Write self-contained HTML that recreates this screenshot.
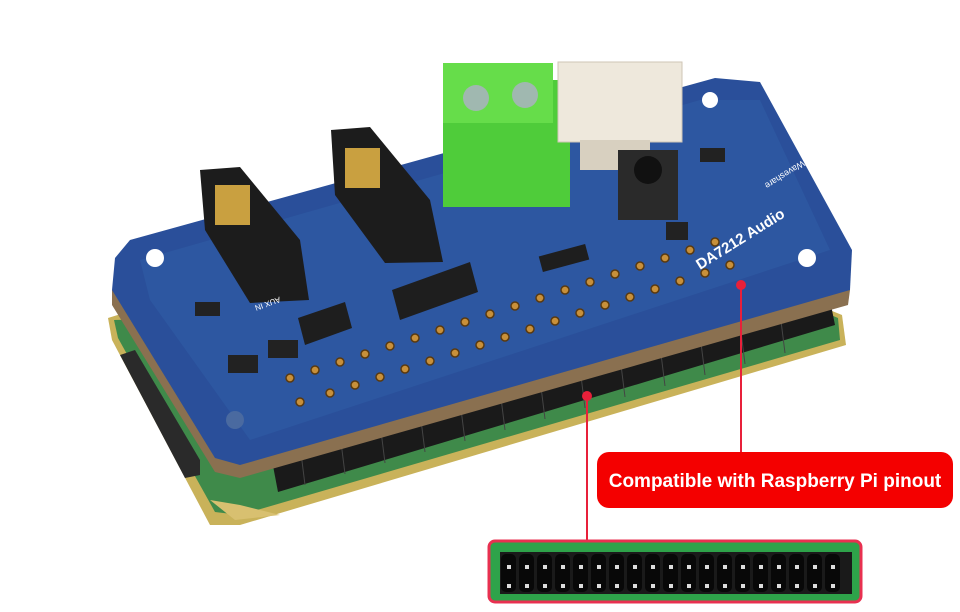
<!DOCTYPE html>
<html><head><meta charset="utf-8"><style>
html,body{margin:0;padding:0;background:#fff;}
svg{display:block;}
</style></head><body>
<svg width="960" height="612" viewBox="0 0 960 612" xmlns="http://www.w3.org/2000/svg">
<rect width="960" height="612" fill="#fff"/>
<polygon points="108,318 140,308 800,298 842,315 846,345 240,525 210,525 112,340" fill="#c9b25a"/>
<polygon points="114,320 800,302 838,318 840,340 240,515 215,512 118,338" fill="#3f8a4a"/>
<polygon points="210,500 235,520 280,515 240,505" fill="#d8c070"/>
<polygon points="270,450 830,300 835,325 278,492" fill="#1a1a1a"/>
<g stroke="#444" stroke-width="1">
<line x1="300" y1="445" x2="305" y2="485"/><line x1="340" y1="434" x2="345" y2="474"/><line x1="380" y1="423" x2="385" y2="463"/><line x1="420" y1="412" x2="425" y2="452"/><line x1="460" y1="401" x2="465" y2="441"/><line x1="500" y1="390" x2="505" y2="430"/><line x1="540" y1="379" x2="545" y2="419"/><line x1="580" y1="368" x2="585" y2="408"/><line x1="620" y1="357" x2="625" y2="397"/><line x1="660" y1="346" x2="665" y2="386"/><line x1="700" y1="335" x2="705" y2="375"/><line x1="740" y1="324" x2="745" y2="364"/><line x1="780" y1="313" x2="785" y2="353"/>
</g>
<polygon points="120,355 135,350 200,460 200,475 185,478" fill="#2a2a2a"/>
<polygon points="112,290 850,290 848,305 240,478 215,472 112,305" fill="#8a7050"/>
<polygon points="115,258 130,240 715,78 760,82 852,250 850,290 240,465 215,458 112,290" fill="#2a4f9a"/>
<polygon points="140,260 700,100 760,100 830,250 250,440 150,300" fill="#3060a8" opacity="0.5"/>
<circle cx="155" cy="258" r="9" fill="#fff"/><circle cx="710" cy="100" r="8" fill="#fff"/>
<circle cx="807" cy="258" r="9" fill="#fff"/><circle cx="235" cy="420" r="9" fill="#4a6aa0"/>
<g fill="#c8903a" stroke="#5a3a10" stroke-width="1.5">
<circle cx="300" cy="402" r="4"/><circle cx="330" cy="393" r="4"/><circle cx="355" cy="385" r="4"/><circle cx="380" cy="377" r="4"/><circle cx="405" cy="369" r="4"/><circle cx="430" cy="361" r="4"/><circle cx="455" cy="353" r="4"/><circle cx="480" cy="345" r="4"/><circle cx="505" cy="337" r="4"/><circle cx="530" cy="329" r="4"/><circle cx="555" cy="321" r="4"/><circle cx="580" cy="313" r="4"/><circle cx="605" cy="305" r="4"/><circle cx="630" cy="297" r="4"/><circle cx="655" cy="289" r="4"/><circle cx="680" cy="281" r="4"/><circle cx="705" cy="273" r="4"/><circle cx="730" cy="265" r="4"/>
<circle cx="290" cy="378" r="4"/><circle cx="315" cy="370" r="4"/><circle cx="340" cy="362" r="4"/><circle cx="365" cy="354" r="4"/><circle cx="390" cy="346" r="4"/><circle cx="415" cy="338" r="4"/><circle cx="440" cy="330" r="4"/><circle cx="465" cy="322" r="4"/><circle cx="490" cy="314" r="4"/><circle cx="515" cy="306" r="4"/><circle cx="540" cy="298" r="4"/><circle cx="565" cy="290" r="4"/><circle cx="590" cy="282" r="4"/><circle cx="615" cy="274" r="4"/><circle cx="640" cy="266" r="4"/><circle cx="665" cy="258" r="4"/><circle cx="690" cy="250" r="4"/><circle cx="715" cy="242" r="4"/>
</g>
<polygon points="392,290 470,262 478,292 400,320" fill="#1e1e1e"/>
<polygon points="298,318 345,302 352,328 305,345" fill="#1e1e1e"/>
<rect x="540" y="250" width="48" height="16" fill="#1e1e1e" transform="rotate(-15 564 258)"/>
<rect x="228" y="355" width="30" height="18" fill="#222"/><rect x="268" y="340" width="30" height="18" fill="#222"/>
<rect x="195" y="302" width="25" height="14" fill="#222"/><rect x="700" y="148" width="25" height="14" fill="#222"/>
<rect x="666" y="222" width="22" height="18" fill="#222"/>
<polygon points="200,170 240,167 300,240 309,300 250,303 205,230" fill="#1c1c1c"/>
<rect x="215" y="185" width="35" height="40" fill="#c9a040"/>
<polygon points="331,130 370,127 430,200 443,262 385,263 335,195" fill="#1c1c1c"/>
<rect x="345" y="148" width="35" height="40" fill="#c9a040"/>
<rect x="443" y="80" width="127" height="127" fill="#4fcc3a"/>
<rect x="443" y="63" width="110" height="60" fill="#66dd4a"/>
<circle cx="476" cy="98" r="13" fill="#a0b8b0"/><circle cx="525" cy="95" r="13" fill="#a0b8b0"/>
<rect x="558" y="62" width="124" height="80" fill="#eee8dc" stroke="#cfc6b6"/>
<rect x="580" y="140" width="70" height="30" fill="#d8d0c0"/>
<rect x="618" y="150" width="60" height="70" fill="#2a2a2a"/>
<circle cx="648" cy="170" r="14" fill="#111"/>
<text x="700" y="270" font-family="Liberation Sans, sans-serif" font-size="15" font-weight="bold" fill="#fff" transform="rotate(-32 700 270)">DA7212 Audio</text>
<text x="740" y="222" font-family="Liberation Sans, sans-serif" font-size="9" fill="#fff" transform="rotate(148 780 200)">Waveshare</text>
<text x="260" y="300" font-family="Liberation Sans, sans-serif" font-size="8" fill="#fff" transform="rotate(160 270 300)">AUX IN</text>
<line x1="741" y1="285" x2="741" y2="452" stroke="#e8203a" stroke-width="2"/>
<circle cx="741" cy="285" r="5" fill="#e8203a"/>
<line x1="587" y1="396" x2="587" y2="541" stroke="#e8203a" stroke-width="2"/>
<circle cx="587" cy="396" r="5" fill="#e8203a"/>
<rect x="597" y="452" width="356" height="56" rx="12" fill="#f40000"/>
<text x="775" y="487" text-anchor="middle" font-family="Liberation Sans, sans-serif" font-size="19" font-weight="bold" fill="#fff">Compatible with Raspberry Pi pinout</text>
<rect x="489" y="541" width="372" height="61" rx="6" fill="#2ea34a" stroke="#e83050" stroke-width="3"/>
<rect x="500" y="552" width="352" height="42" fill="#1a1a1a"/>
<g fill="#080808">
<rect x="501" y="554" width="15" height="38" rx="5"/><rect x="519" y="554" width="15" height="38" rx="5"/><rect x="537" y="554" width="15" height="38" rx="5"/><rect x="555" y="554" width="15" height="38" rx="5"/><rect x="573" y="554" width="15" height="38" rx="5"/><rect x="591" y="554" width="15" height="38" rx="5"/><rect x="609" y="554" width="15" height="38" rx="5"/><rect x="627" y="554" width="15" height="38" rx="5"/><rect x="645" y="554" width="15" height="38" rx="5"/><rect x="663" y="554" width="15" height="38" rx="5"/><rect x="681" y="554" width="15" height="38" rx="5"/><rect x="699" y="554" width="15" height="38" rx="5"/><rect x="717" y="554" width="15" height="38" rx="5"/><rect x="735" y="554" width="15" height="38" rx="5"/><rect x="753" y="554" width="15" height="38" rx="5"/><rect x="771" y="554" width="15" height="38" rx="5"/><rect x="789" y="554" width="15" height="38" rx="5"/><rect x="807" y="554" width="15" height="38" rx="5"/><rect x="825" y="554" width="15" height="38" rx="5"/>
</g>
<g fill="#ddd">
<rect x="507" y="565" width="4" height="4"/><rect x="507" y="584" width="4" height="4"/>
<rect x="525" y="565" width="4" height="4"/><rect x="525" y="584" width="4" height="4"/>
<rect x="543" y="565" width="4" height="4"/><rect x="543" y="584" width="4" height="4"/>
<rect x="561" y="565" width="4" height="4"/><rect x="561" y="584" width="4" height="4"/>
<rect x="579" y="565" width="4" height="4"/><rect x="579" y="584" width="4" height="4"/>
<rect x="597" y="565" width="4" height="4"/><rect x="597" y="584" width="4" height="4"/>
<rect x="615" y="565" width="4" height="4"/><rect x="615" y="584" width="4" height="4"/>
<rect x="633" y="565" width="4" height="4"/><rect x="633" y="584" width="4" height="4"/>
<rect x="651" y="565" width="4" height="4"/><rect x="651" y="584" width="4" height="4"/>
<rect x="669" y="565" width="4" height="4"/><rect x="669" y="584" width="4" height="4"/>
<rect x="687" y="565" width="4" height="4"/><rect x="687" y="584" width="4" height="4"/>
<rect x="705" y="565" width="4" height="4"/><rect x="705" y="584" width="4" height="4"/>
<rect x="723" y="565" width="4" height="4"/><rect x="723" y="584" width="4" height="4"/>
<rect x="741" y="565" width="4" height="4"/><rect x="741" y="584" width="4" height="4"/>
<rect x="759" y="565" width="4" height="4"/><rect x="759" y="584" width="4" height="4"/>
<rect x="777" y="565" width="4" height="4"/><rect x="777" y="584" width="4" height="4"/>
<rect x="795" y="565" width="4" height="4"/><rect x="795" y="584" width="4" height="4"/>
<rect x="813" y="565" width="4" height="4"/><rect x="813" y="584" width="4" height="4"/>
<rect x="831" y="565" width="4" height="4"/><rect x="831" y="584" width="4" height="4"/>
</g>
</svg>
</body></html>
